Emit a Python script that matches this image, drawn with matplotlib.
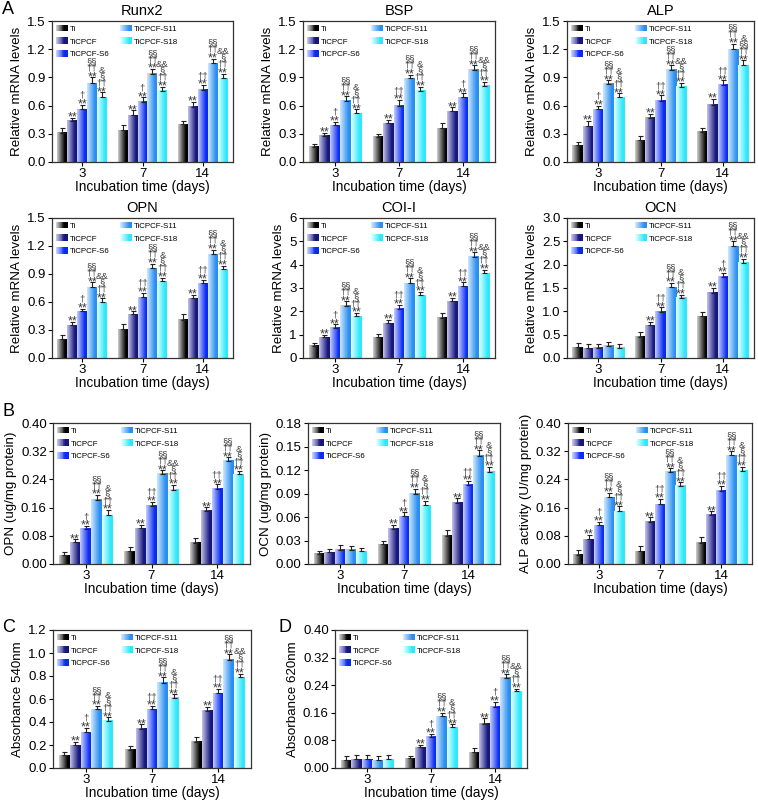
import numpy as np
import matplotlib
matplotlib.use('Agg')
import matplotlib.pyplot as plt
import matplotlib.colors as mcolors
from matplotlib.patches import Rectangle
from matplotlib.legend_handler import HandlerBase

plt.rcParams['font.family'] = ['Liberation Sans', 'DejaVu Sans']

days = ['3', '7', '14']
groups = ['Ti', 'TiCPCF', 'TiCPCF-S6', 'TiCPCF-S11', 'TiCPCF-S18']
xlabel = 'Incubation time (days)'

# ---- data: rows = day (3, 7, 14), cols = group ----
runx2_mean = [[0.31, 0.44, 0.56, 0.84, 0.69], [0.34, 0.50, 0.64, 0.94, 0.76], [0.40, 0.59, 0.77, 1.05, 0.89]]
runx2_err = [[0.05, 0.03, 0.05, 0.06, 0.05], [0.05, 0.05, 0.05, 0.05, 0.04], [0.04, 0.05, 0.05, 0.05, 0.05]]
runx2_sig = [["", "**", "**|†", "**|††|§§", "**|††|§|&"],
             ["", "**", "**|†", "**|††|§§", "**|††|§|&&"],
             ["", "**", "**|††", "**|††|§§", "**|††|§|&&"]]

bsp_mean = [[0.16, 0.28, 0.39, 0.65, 0.52], [0.27, 0.41, 0.60, 0.89, 0.76], [0.36, 0.54, 0.69, 0.98, 0.81]]
bsp_err = [[0.03, 0.03, 0.04, 0.05, 0.04], [0.03, 0.04, 0.06, 0.04, 0.04], [0.06, 0.04, 0.04, 0.05, 0.04]]
bsp_sig = [["", "**", "**|†", "**|††|§§", "**|††|§|&"],
           ["", "**", "**|††", "**|††|§§", "**|††|§|&"],
           ["", "**", "**|†", "**|††|§§", "**|††|§|&&"]]

alp_mean = [[0.18, 0.38, 0.56, 0.83, 0.69], [0.23, 0.47, 0.65, 0.98, 0.80], [0.32, 0.61, 0.82, 1.20, 1.03]]
alp_err = [[0.03, 0.06, 0.04, 0.04, 0.04], [0.05, 0.04, 0.06, 0.05, 0.04], [0.04, 0.06, 0.05, 0.06, 0.05]]
alp_sig = [["", "**", "**|†", "**|††|§§", "**|††|§|&"],
           ["", "**", "**|††", "**|††|§§", "**|††|§|&&"],
           ["", "**", "**|††", "**|††|§§", "**|††|§§|&"]]

opn_mean = [[0.20, 0.35, 0.50, 0.76, 0.60], [0.31, 0.47, 0.65, 0.96, 0.82], [0.41, 0.64, 0.80, 1.11, 0.95]]
opn_err = [[0.05, 0.04, 0.03, 0.05, 0.04], [0.05, 0.03, 0.05, 0.05, 0.04], [0.06, 0.04, 0.04, 0.05, 0.04]]
opn_sig = [["", "**", "**|†", "**|††|§§", "**|††|§|&&"],
           ["", "**", "**|††", "**|††|§§", "**|††|§|&"],
           ["", "**", "**|††", "**|††|§§", "**|††|§|&"]]

col_mean = [[0.52, 0.88, 1.30, 2.25, 1.78], [0.90, 1.50, 2.12, 3.20, 2.68], [1.73, 2.43, 3.07, 4.33, 3.63]]
col_err = [[0.12, 0.12, 0.14, 0.18, 0.15], [0.13, 0.15, 0.16, 0.22, 0.15], [0.18, 0.15, 0.18, 0.20, 0.15]]
col_sig = [["", "**", "**|†", "**|††|§§", "**|††|§|&"],
           ["", "**", "**|††", "**|††|§§", "**|††|§|&"],
           ["", "**", "**|††", "**|††|§§", "**|††|§|&&"]]

ocn_mean = [[0.23, 0.21, 0.22, 0.26, 0.22], [0.46, 0.70, 0.99, 1.52, 1.29], [0.90, 1.40, 1.74, 2.40, 2.04]]
ocn_err = [[0.09, 0.08, 0.07, 0.08, 0.08], [0.09, 0.08, 0.10, 0.09, 0.07], [0.09, 0.10, 0.08, 0.10, 0.09]]
ocn_sig = [["", "", "", "", ""],
           ["", "**", "**|††", "**|††|§§", "**|††|§|&"],
           ["", "**", "**|†", "**|††|§§", "**|††|§|&&"]]

opnp_mean = [[0.025, 0.062, 0.100, 0.182, 0.138], [0.036, 0.101, 0.165, 0.256, 0.211], [0.060, 0.151, 0.214, 0.293, 0.254]]
opnp_err = [[0.009, 0.008, 0.008, 0.014, 0.015], [0.012, 0.010, 0.012, 0.010, 0.013], [0.015, 0.010, 0.012, 0.010, 0.010]]
opnp_sig = [["", "**", "**|†", "**|††|§§", "**|††|§|&"],
            ["", "**", "**|††", "**|††|§§", "**|††|§|&&"],
            ["", "**", "**|††", "**|††|§§", "**|††|§|&"]]

ocnp_mean = [[0.013, 0.015, 0.018, 0.018, 0.016], [0.025, 0.045, 0.061, 0.090, 0.075], [0.036, 0.078, 0.101, 0.138, 0.118]]
ocnp_err = [[0.004, 0.004, 0.006, 0.005, 0.005], [0.005, 0.005, 0.005, 0.006, 0.006], [0.007, 0.006, 0.005, 0.007, 0.006]]
ocnp_sig = [["", "", "", "", ""],
            ["", "**", "**|†", "**|††|§§", "**|††|§|&"],
            ["", "**", "**|††", "**|††|§§", "**|††|§|&"]]

alpa_mean = [[0.026, 0.070, 0.110, 0.190, 0.150], [0.036, 0.120, 0.170, 0.262, 0.222], [0.060, 0.140, 0.208, 0.308, 0.265]]
alpa_err = [[0.013, 0.012, 0.010, 0.012, 0.014], [0.016, 0.013, 0.015, 0.010, 0.010], [0.016, 0.010, 0.014, 0.012, 0.010]]
alpa_sig = [["", "**", "**|†", "**|††|§§", "**|††|§|&"],
            ["", "**", "**|††", "**|††|§§", "**|††|§|&"],
            ["", "**", "**|††", "**|††|§§", "**|††|§|&"]]

a540_mean = [[0.11, 0.20, 0.31, 0.51, 0.41], [0.16, 0.34, 0.51, 0.74, 0.61], [0.23, 0.50, 0.65, 0.94, 0.79]]
a540_err = [[0.03, 0.03, 0.04, 0.03, 0.03], [0.03, 0.04, 0.03, 0.05, 0.03], [0.04, 0.03, 0.04, 0.05, 0.03]]
a540_sig = [["", "**", "**|†", "**|††|§§", "**|††|§|&"],
            ["", "**", "**|††", "**|††|§§", "**|††|§|&"],
            ["", "**", "**|††", "**|††|§§", "**|††|§|&&"]]

a620_mean = [[0.023, 0.025, 0.025, 0.023, 0.026], [0.028, 0.060, 0.090, 0.150, 0.118], [0.045, 0.128, 0.178, 0.262, 0.222]]
a620_err = [[0.012, 0.012, 0.012, 0.012, 0.012], [0.008, 0.008, 0.009, 0.010, 0.009], [0.014, 0.016, 0.014, 0.010, 0.008]]
a620_sig = [["", "", "", "", ""],
            ["", "**", "**|†", "**|††|§§", "**|††|§|&"],
            ["", "**", "**|†", "**|††|§§", "**|††|§|&&"]]

# y tick labels
yt_mrna = ['0.0', '0.3', '0.6', '0.9', '1.2', '1.5']
yt_col = ['0', '1', '2', '3', '4', '5', '6']
yt_ocn = ['0.0', '0.5', '1.0', '1.5', '2.0', '2.5', '3.0']
yt_040 = ['0.00', '0.08', '0.16', '0.24', '0.32', '0.40']
yt_018 = ['0.00', '0.03', '0.06', '0.09', '0.12', '0.15', '0.18']
yt_12 = ['0.0', '0.2', '0.4', '0.6', '0.8', '1.0', '1.2']

# ---- styles ----
light = ['#cfcfcf', '#c4c4ec', '#c4d0ff', '#cfe8ff', '#e4ffff']
dark = ['#000000', '#16167c', '#0a2af2', '#2a8ef0', '#2ce8fa']

W, H = 758, 801
fig = plt.figure(figsize=(W / 100, H / 100), dpi=100)


def add_ax(x0, x1, y0, y1):
    return fig.add_axes([x0 / W, 1 - y1 / H, (x1 - x0) / W, (y1 - y0) / H])


def grad_rgb(c0, c1, n=64):
    a = np.array(mcolors.to_rgb(c0))
    b = np.array(mcolors.to_rgb(c1))
    t = np.clip(np.linspace(0, 1, n) / 0.8, 0, 1)[:, None]
    return (a * (1 - t) + b * t)[None, :, :]


class GradSwatch:
    def __init__(self, i):
        self.i = i


class HandlerGrad(HandlerBase):
    def create_artists(self, legend, orig_handle, xdescent, ydescent,
                       width, height, fontsize, trans):
        n = 12
        cols = grad_rgb(light[orig_handle.i], dark[orig_handle.i], n)[0]
        arts = []
        for k in range(n):
            arts.append(Rectangle((-xdescent + k * width / n, -ydescent),
                                  width / n * 1.08, height,
                                  facecolor=cols[k], edgecolor='none',
                                  transform=trans))
        return arts


def draw_panel(ax, mean, err, sig, yticklabels, ylabel, title=None):
    mean = np.asarray(mean, dtype=float)
    err = np.asarray(err, dtype=float)
    yt = [float(s) for s in yticklabels]
    x = np.arange(len(days))
    bw = 0.165
    for g in range(len(groups)):
        xs = x + (g - 2) * bw
        bars = ax.bar(xs, mean[:, g], bw, color=dark[g], linewidth=0, zorder=2)
        img = grad_rgb(light[g], dark[g])
        for b in bars:
            bx, by = b.get_x(), b.get_y()
            w, h = b.get_width(), b.get_height()
            ax.imshow(img, extent=(bx, bx + w, by, by + h), aspect='auto',
                      interpolation='bilinear', zorder=2.1)
        ax.errorbar(xs, mean[:, g], yerr=[np.zeros(len(days)), err[:, g]],
                    fmt='none', ecolor='#222222', elinewidth=0.8,
                    capsize=1.8, capthick=0.8, zorder=3)
        for d in range(len(days)):
            s = sig[d][g]
            if not s:
                continue
            top = mean[d, g] + err[d, g]
            for i, sym in enumerate(s.split('|')):
                dy = -1.0 + 4.5 * i
                fs = 6.8
                if sym == '**':
                    dy -= 3.2
                    fs = 9.0
                ax.annotate(sym, (xs[d], top), xytext=(0, dy),
                            textcoords='offset points', ha='center',
                            va='bottom', fontsize=fs, color='#3a3a3a',
                            zorder=4)
    ax.set_xlim(-0.5, 2.5)
    ax.set_ylim(yt[0], yt[-1])
    ax.set_xticks(x)
    ax.set_xticklabels(days)
    ax.set_yticks(yt)
    ax.set_yticklabels(yticklabels)
    ax.tick_params(axis='both', direction='out', length=3, width=0.8,
                   labelsize=9.5, pad=1.5, top=False, right=False)
    for sp in ax.spines.values():
        sp.set_linewidth(0.9)
        sp.set_color('#333333')
    ax.set_xlabel(xlabel, fontsize=9.8, labelpad=-0.5)
    ax.set_ylabel(ylabel, fontsize=9.6, labelpad=3)
    if title:
        ax.set_title(title, fontsize=10.5, pad=4)
    ax.legend([GradSwatch(i) for i in range(len(groups))], groups,
              handler_map={GradSwatch: HandlerGrad()}, loc='upper left',
              ncol=2, frameon=False, fontsize=5.7, handlelength=1.5,
              handleheight=0.95, handletextpad=0.3, columnspacing=1.3,
              labelspacing=0.6, borderaxespad=0.2, borderpad=0.25)


mrna_lab = 'Relative mRNA levels'
panels = [
    ((52, 233, 21, 162), runx2_mean, runx2_err, runx2_sig, yt_mrna, mrna_lab, 'Runx2'),
    ((303, 495, 21, 162), bsp_mean, bsp_err, bsp_sig, yt_mrna, mrna_lab, 'BSP'),
    ((567, 754, 21, 162), alp_mean, alp_err, alp_sig, yt_mrna, mrna_lab, 'ALP'),
    ((52, 233, 218, 358), opn_mean, opn_err, opn_sig, yt_mrna, mrna_lab, 'OPN'),
    ((303, 495, 218, 358), col_mean, col_err, col_sig, yt_col, mrna_lab, 'COI-I'),
    ((567, 754, 218, 358), ocn_mean, ocn_err, ocn_sig, yt_ocn, mrna_lab, 'OCN'),
    ((53, 250, 423, 564), opnp_mean, opnp_err, opnp_sig, yt_040, 'OPN (ug/mg protein)', None),
    ((308, 500, 423, 564), ocnp_mean, ocnp_err, ocnp_sig, yt_018, 'OCN (ug/mg protein)', None),
    ((568, 752, 423, 564), alpa_mean, alpa_err, alpa_sig, yt_040, 'ALP activity (U/mg protein)', None),
    ((53, 251, 630, 768), a540_mean, a540_err, a540_sig, yt_12, 'Absorbance 540nm', None),
    ((335, 527, 630, 768), a620_mean, a620_err, a620_sig, yt_040, 'Absorbance 620nm', None),
]

for rect, m, e, s, yl, ylab, title in panels:
    ax = add_ax(*rect)
    draw_panel(ax, m, e, s, yl, ylab, title)

for letter, px, py in [('A', 2, 10), ('B', 2, 412), ('C', 2, 628), ('D', 278, 628)]:
    fig.text(px / W, 1 - py / H, letter, fontsize=13, ha='left', va='center')

fig.savefig('out.png', dpi=100)
